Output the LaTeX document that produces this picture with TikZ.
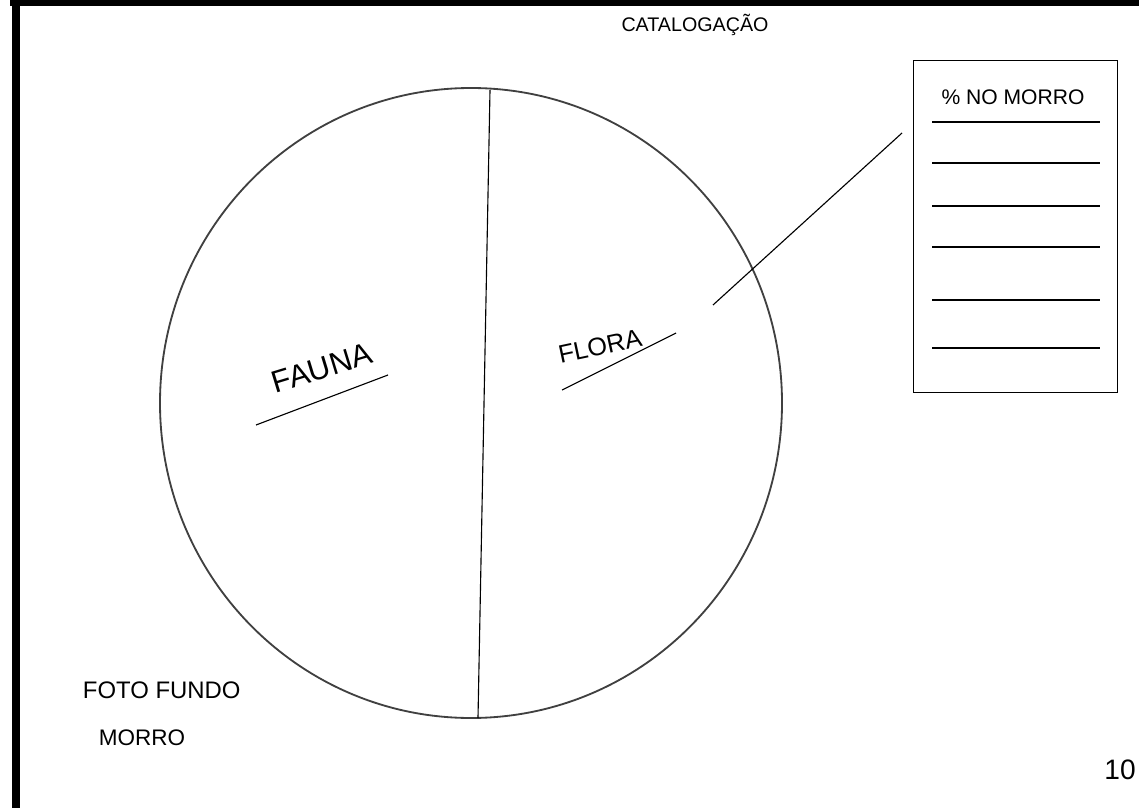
\documentclass[tikz,border=0pt]{standalone}
\usepackage{fontspec}
\setmainfont{Liberation Sans}
\usetikzlibrary{positioning}

\begin{document}
\begin{tikzpicture}[x=0.025cm, y=-0.025cm]
				\useasboundingbox (0,0) rectangle (1139,808);
				\fill[white] (0,0) rectangle (1139,808);
				% edges of the scanned sheet
				\fill[black] (10,0) rectangle (1139,6);
				\fill[black] (12,0) rectangle (20,808);
				% pie
				\coordinate (mid) at (471,403);
				\draw[line width=1.3pt, black!75] (mid) ellipse [x radius=311, y radius=315];
				\coordinate (top) at (490,90);
				\coordinate (bot) at (478,718);
				\draw[line width=0.8pt] (top) -- (bot);
				\node[font=\fontsize{22}{22}\selectfont, rotate=17, inner sep=1pt] (fauna) at (322,368) {FAUNA};
				\coordinate (faunaA) at (256,425);
				\coordinate (faunaB) at (388,375);
				\draw[line width=0.8pt] (faunaA) -- (faunaB);
				\node[font=\fontsize{18}{18}\selectfont, rotate=12, inner sep=1pt] (flora) at (600,346) {FLORA};
				\coordinate (floraA) at (562,390);
				\coordinate (floraB) at (676,333);
				\draw[line width=0.8pt] (floraA) -- (floraB);
				% title
				\node[font=\fontsize{14}{14}\selectfont] (title) at (695,25) {CATALOGAÇÃO};
				% legend
				\node[draw, line width=1pt, minimum width=5.1cm, minimum height=8.3cm, anchor=north west] (box) at (913,60) {};
				\node[font=\fontsize{15}{15}\selectfont] (pct) at (1013,97) {\% NO MORRO};
				\foreach \y in {122,163,206,247,300,348}
					\draw[line width=0.9pt] (932,\y) -- (1100,\y);
				\coordinate (floraPt) at (713,305);
				\coordinate (boxPt) at (902,133);
				\draw[line width=0.8pt] (floraPt) -- (boxPt);
				% notes
				\node[font=\fontsize{17}{17}\selectfont, anchor=west] (foto) at (78,690) {FOTO FUNDO};
				\node[font=\fontsize{16}{16}\selectfont, anchor=west] (morro) at (94,738) {MORRO};
				\node[font=\fontsize{20}{20}\selectfont] (page) at (1120,770) {10};
			\end{tikzpicture}
\end{document}
